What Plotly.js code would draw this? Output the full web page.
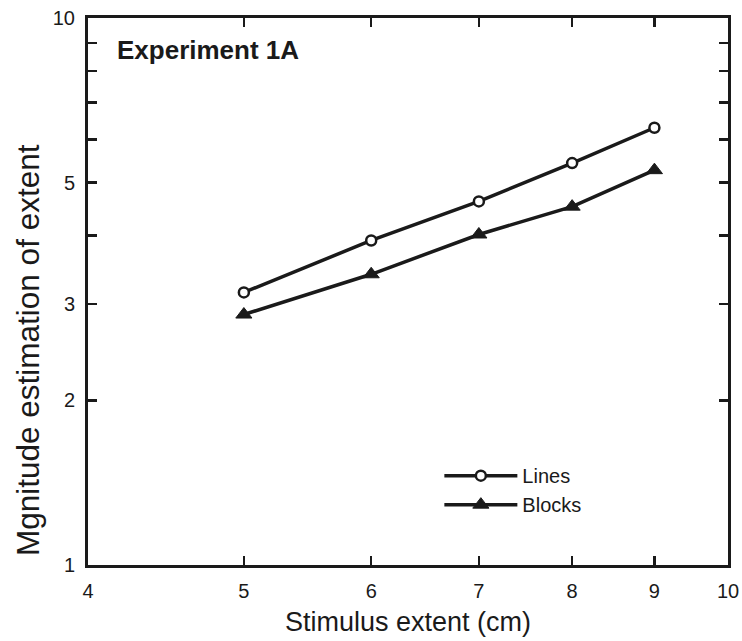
<!DOCTYPE html>
<html>
<head>
<meta charset="utf-8">
<script src="https://cdn.plot.ly/plotly-3.0.1.min.js"></script>
<style>
  html, body { margin: 0; padding: 0; background: #fff; }
  #chart { width: 742px; height: 641px; }
</style>
</head>
<body>
<div id="chart"></div>
<script>
// Data
var stimulusExtent = [5, 6, 7, 8, 9];
var linesEstimates = [3.15, 3.92, 4.62, 5.43, 6.30];
var blocksEstimates = [2.87, 3.40, 4.02, 4.52, 5.27];

var xTickVals = [4, 5, 6, 7, 8, 9, 10];
var xTickText = ['4', '5', '6', '7', '8', '9', '10'];
var yTickVals = [1, 2, 3, 4, 5, 6, 7, 8, 9, 10];
var yTickText = ['1', '2', '3', '', '5', '', '', '', '', '10'];

var FONT = 'Liberation Sans, Arial, Helvetica, sans-serif';

var traces = [
  {
    x: stimulusExtent, y: linesEstimates, name: 'Lines',
    type: 'scatter', mode: 'lines+markers',
    line: { color: '#1a1a1a', width: 3.5 },
    marker: { symbol: 'circle', size: 10, color: '#ffffff', line: { color: '#1a1a1a', width: 2.5 } }
  },
  {
    x: stimulusExtent, y: blocksEstimates, name: 'Blocks',
    type: 'scatter', mode: 'lines+markers',
    line: { color: '#1a1a1a', width: 3.5 },
    marker: { symbol: 'triangle-up', size: 14, color: '#1a1a1a', line: { color: '#1a1a1a', width: 1 } }
  }
];

var axisCommon = {
  type: 'log',
  showgrid: false, zeroline: false,
  showline: true, linecolor: '#1a1a1a', linewidth: 3,
  mirror: 'ticks', ticks: 'inside', ticklen: 9, tickwidth: 2.5, tickcolor: '#1a1a1a',
  tickmode: 'array',
  tickfont: { family: FONT, size: 20, color: '#1a1a1a' }
};

var layout = {
  width: 742, height: 641,
  margin: { l: 88, r: 14, t: 18, b: 76 },
  paper_bgcolor: '#ffffff', plot_bgcolor: '#ffffff',
  font: { family: FONT, color: '#1a1a1a' },
  xaxis: Object.assign({}, axisCommon, {
    range: [Math.log10(4), 1],
    tickvals: xTickVals, ticktext: xTickText,
    ticklabelstandoff: 6,
    title: { text: 'Stimulus extent (cm)', font: { family: FONT, size: 27, color: '#1a1a1a' }, standoff: 12 }
  }),
  yaxis: Object.assign({}, axisCommon, {
    range: [0, 1],
    tickvals: yTickVals, ticktext: yTickText,
    ticklabelstandoff: 6,
    title: { text: '' }
  }),
  showlegend: true,
  legend: {
    x: 0.549, y: 0.199, xanchor: 'left', yanchor: 'top',
    bgcolor: 'rgba(0,0,0,0)', borderwidth: 0,
    itemwidth: 73,
    font: { family: FONT, size: 20, color: '#1a1a1a' },
    tracegroupgap: 0
  },
  annotations: [
    {
      text: '<b>Experiment 1A</b>', xref: 'paper', yref: 'paper',
      x: 0.042, y: 0.9415, xanchor: 'left', yanchor: 'middle', showarrow: false,
      font: { family: FONT, size: 26, color: '#1a1a1a' }
    },
    {
      // y-axis title, placed where the reference draws it
      text: 'Mgnitude estimation of extent', xref: 'paper', yref: 'paper',
      x: 0, xshift: -60, y: 0.393, xanchor: 'center', yanchor: 'middle',
      textangle: -90, showarrow: false,
      font: { family: FONT, size: 31.5, color: '#1a1a1a' }
    }
  ]
};

Plotly.newPlot('chart', traces, layout, { displayModeBar: false, staticPlot: true });
</script>
</body>
</html>
